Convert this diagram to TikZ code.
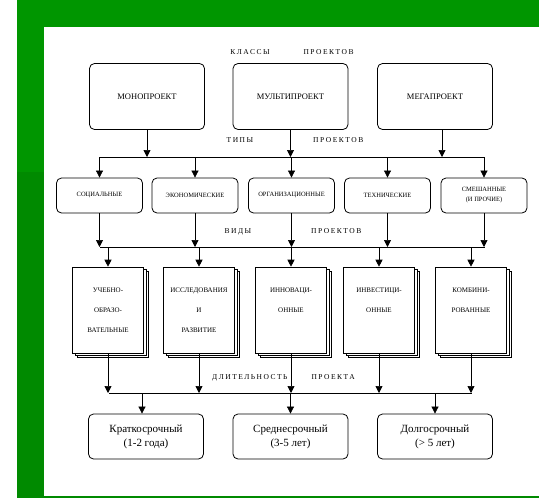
\documentclass[tikz,border=0pt]{standalone}
\usepackage{fontspec}
\setmainfont{Liberation Serif}
\usetikzlibrary{arrows.meta,shadows}

\definecolor{slidegreen}{RGB}{0,150,0}
\definecolor{slidegreendark}{RGB}{0,138,0}

\begin{document}
\begin{tikzpicture}[x=1pt,y=-1pt,
  classbox/.style={rectangle, rounded corners=5pt, draw, line width=0.8pt, minimum width=115pt, minimum height=66pt, font=\fontsize{8.5}{10}\selectfont},
  typebox/.style={rectangle, rounded corners=5pt, draw, line width=0.8pt, minimum width=86pt, minimum height=35pt, align=center, font=\fontsize{6.5}{10}\selectfont},
  kindbox/.style={rectangle, draw, fill=white, line width=0.6pt, minimum width=71pt, minimum height=86pt, align=center, font=\fontsize{7}{20}\selectfont, double copy shadow={shadow xshift=2.5pt, shadow yshift=-2pt, line width=1pt}},
  termbox/.style={rectangle, rounded corners=5pt, draw, line width=0.8pt, minimum width=115pt, minimum height=45pt, align=center, font=\fontsize{11}{14}\selectfont},
  caption/.style={inner sep=1pt, font=\fontsize{7.5}{8}\selectfont\addfontfeature{LetterSpace=20}},
  arr/.style={line width=0.7pt, -{Triangle[width=7pt,length=7pt]}},
  bus/.style={line width=0.7pt}
]

         % slide frame
         \fill[white] (0,0) rectangle (539,498);
         \fill[slidegreen] (17,0) rectangle (539,27);
         \fill[slidegreen] (17,27) rectangle (44,172);
         \fill[slidegreendark] (17,172) rectangle (44,498);
         \fill[slidegreendark] (44,495.5) rectangle (539,498);

         \node [caption] (classcap) at (292,52)  {КЛАССЫ\hspace{34pt}ПРОЕКТОВ};
         \node [classbox] (mono)  at (147,96.5)   {МОНОПРОЕКТ};
         \node [classbox] (multi) at (290.5,96.5) {МУЛЬТИПРОЕКТ};
         \node [classbox] (mega)  at (435,96.5)   {МЕГАПРОЕКТ};

         \node [caption] (typecap) at (295,140) {ТИПЫ\hspace{60pt}ПРОЕКТОВ};
         \coordinate (typebusL) at (100,157);
         \coordinate (typebusR) at (485,157);

         \node [typebox] (social)   at (99.5,195.5)  {СОЦИАЛЬНЫЕ};
         \node [typebox] (economic) at (195,195.5)   {ЭКОНОМИЧЕСКИЕ};
         \node [typebox] (organize) at (291.5,195.5) {ОРГАНИЗАЦИОННЫЕ};
         \node [typebox] (technic)  at (387.5,195.5) {ТЕХНИЧЕСКИЕ};
         \node [typebox] (mixed)    at (484,195.5)   {СМЕШАННЫЕ\\(И ПРОЧИЕ)};

         \node [caption] (kindcap) at (293,232) {ВИДЫ\hspace{60pt}ПРОЕКТОВ};
         \coordinate (kindbusL) at (100,247);
         \coordinate (kindbusR) at (485,247);

         \node [kindbox] (teach)   at (108,310) {УЧЕБНО-\\ОБРАЗО-\\ВАТЕЛЬНЫЕ};
         \node [kindbox] (study)   at (199,310) {ИССЛЕДОВАНИЯ\\И\\РАЗВИТИЕ};
         \node [kindbox] (innov)   at (291,310) {ИННОВАЦИ-\\ОННЫЕ\\~};
         \node [kindbox] (invest)  at (379,310) {ИНВЕСТИЦИ-\\ОННЫЕ\\~};
         \node [kindbox] (combine) at (471,310) {КОМБИНИ-\\РОВАННЫЕ\\~};

         \node [caption] (termcap) at (283.5,378) {ДЛИТЕЛЬНОСТЬ\hspace{24pt}ПРОЕКТА};
         \coordinate (termbusL) at (109,393);
         \coordinate (termbusR) at (472,393);

         \node [termbox] (short)  at (146,436.5)   {Краткосрочный\\(1-2 года)};
         \node [termbox] (middle) at (290.5,436.5) {Среднесрочный\\(3-5 лет)};
         \node [termbox] (long)   at (435,436.5)   {Долгосрочный\\(> 5 лет)};

         % classes -> types
         \draw [arr] (mono) -- (mono |- typebusL);
         \draw [arr] (multi) -- (multi |- typebusL);
         \draw [arr] ([xshift=7pt]mega.south) -- ([xshift=7pt]mega.south |- typebusL);
         \draw [bus] (typebusL) -- (typebusR);
         \foreach \t in {social,economic,organize,technic,mixed}
           \draw [arr] (\t |- typebusL) -- (\t);

         % types -> kinds
         \foreach \t in {social,economic,organize,technic,mixed}
           \draw [arr] (\t) -- (\t |- kindbusL);
         \draw [bus] (kindbusL) -- (kindbusR);
         \foreach \k in {teach,study,innov,invest,combine}
           \draw [arr] (\k |- kindbusL) -- (\k);

         % kinds -> duration
         \foreach \k in {teach,study,innov,invest,combine}
           \draw [arr] (\k) -- (\k |- termbusL);
         \draw [bus] (termbusL) -- (termbusR);
         \draw [arr] ([xshift=-4pt]short.north |- termbusL) -- ([xshift=-4pt]short.north);
         \draw [arr] (middle |- termbusL) -- (middle);
         \draw [arr] (long |- termbusL) -- (long);

\end{tikzpicture}
\end{document}
